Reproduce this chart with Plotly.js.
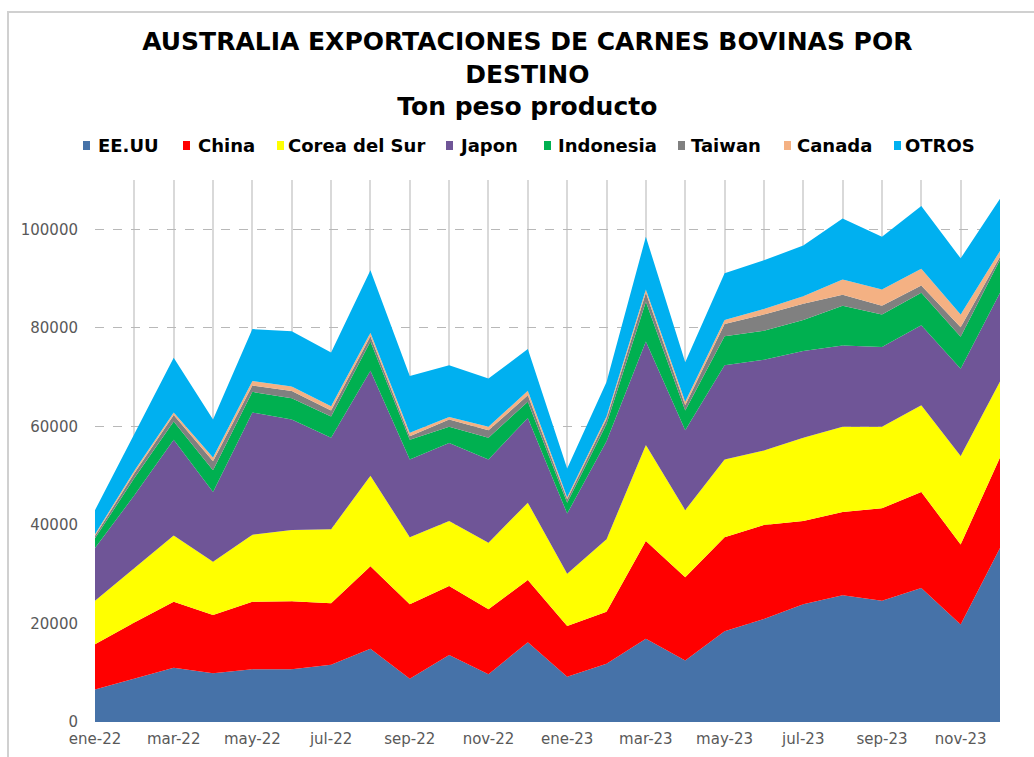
<!DOCTYPE html>
<html>
<head>
<meta charset="utf-8">
<script src="https://cdn.plot.ly/plotly-3.0.1.min.js"></script>
<style>
  html, body { margin: 0; padding: 0; background: #ffffff; }
  #chart { width: 1034px; height: 757px; }
</style>
</head>
<body>
<div id="chart"></div>
<script>
// ---- data (ton peso producto) ----
const months = ['ene-22','feb-22','mar-22','abr-22','may-22','jun-22','jul-22','ago-22','sep-22','oct-22','nov-22','dic-22',
                'ene-23','feb-23','mar-23','abr-23','may-23','jun-23','jul-23','ago-23','sep-23','oct-23','nov-23','dic-23'];
const seriesNames = ['EE.UU','China','Corea del Sur','Japon','Indonesia','Taiwan','Canada','OTROS'];
const eeuu      = [6600,8800,11000,9900,10700,10700,11600,14850,8800,13600,9700,16200,9200,11800,16900,12500,18400,20900,23900,25700,24600,27200,19800,35300];
const china     = [9200,11400,13400,11800,13700,13800,12500,16750,15100,14000,13200,12600,10300,10600,19850,16900,19100,19100,16900,16900,18800,19500,16200,18400];
const corea     = [8800,11000,13450,10800,13600,14450,15000,18400,13600,13200,13500,15700,10600,14700,19450,13600,15800,15100,16900,17300,16500,17600,18000,15400];
const japon     = [10700,14800,19450,14200,24800,22450,18600,21300,15800,15800,16900,17200,12200,19900,21000,16200,19100,18400,17600,16500,16200,16200,17700,18000];
const indonesia = [2000,3500,3700,4400,4200,4300,4300,5900,4000,3300,4400,3300,2200,3500,8100,4000,5900,5900,6300,8100,6600,6600,6500,6700];
const taiwan    = [500,1000,1300,1800,1300,1500,1200,1100,700,1500,1500,1300,700,1000,1800,1100,2500,3300,3300,2200,1800,1500,1900,600];
const canada    = [300,500,500,800,900,900,900,700,700,500,700,950,400,500,700,700,800,1100,1500,3100,3300,3400,2600,1200];
const otros     = [4900,7500,11100,7700,10550,11200,10900,12700,11500,10500,9800,8450,5850,7000,10700,8000,9500,9900,10300,12400,10700,12700,11400,10600];
const tickLabels = ['ene-22','mar-22','may-22','jul-22','sep-22','nov-22','ene-23','mar-23','may-23','jul-23','sep-23','nov-23'];

// ---- styles ----
const colors = ['#4672A8','#FF0000','#FFFF00','#6F5597','#00B050','#808080','#F4B183','#00B0F0'];
const values = [eeuu, china, corea, japon, indonesia, taiwan, canada, otros];

const traces = values.map((v, i) => ({
  type: 'scatter',
  mode: 'lines',
  name: seriesNames[i],
  x: months,
  y: v,
  stackgroup: 'one',
  fillcolor: colors[i],
  line: { width: 0, color: colors[i] },
  showlegend: false,
  hoverinfo: 'x+y+name'
}));

// plot area in pixels (for positioning the hand-laid legend)
const L = 95, R = 1000, T = 180, B = 722, W = 1034, H = 757;
const xp = px => (px - L) / (R - L);
const yp = py => (B - py) / (B - T);

const legendMarkerX = [83, 183, 277, 446, 544, 678, 784, 894];
const legendTextX   = [96, 196, 286, 457, 556, 689, 795, 903];
const legendY = 145;

const shapes = [];
const annotations = [];
seriesNames.forEach((n, i) => {
  shapes.push({
    type: 'rect', xref: 'paper', yref: 'paper',
    x0: xp(legendMarkerX[i]), x1: xp(legendMarkerX[i] + 7),
    y0: yp(legendY + 5), y1: yp(legendY - 4),
    fillcolor: colors[i], line: { width: 0 }
  });
  annotations.push({
    xref: 'paper', yref: 'paper',
    x: xp(legendTextX[i]), y: yp(legendY),
    xanchor: 'left', yanchor: 'middle',
    text: n, showarrow: false,
    font: { family: 'DejaVu Sans', size: 18, color: '#000000', weight: 'bold' }
  });
});
// outer chart frame
shapes.push({
  type: 'rect', xref: 'paper', yref: 'paper', layer: 'below',
  x0: xp(8), x1: xp(1045), y0: yp(775), y1: yp(12),
  fillcolor: 'rgba(0,0,0,0)', line: { color: '#d0d0d0', width: 2 }
});

const layout = {
  width: W, height: H,
  margin: { l: L, r: W - R, t: T, b: H - B, pad: 0 },
  paper_bgcolor: '#ffffff',
  plot_bgcolor: '#ffffff',
  showlegend: false,
  title: {
    text: 'AUSTRALIA EXPORTACIONES DE CARNES BOVINAS POR<br>DESTINO<br>Ton peso producto',
    font: { family: 'DejaVu Sans', size: 25, color: '#000000', weight: 'bold' },
    x: 0.51, xref: 'container', xanchor: 'center',
    y: 1 - 50 / H, yref: 'container', yanchor: 'top'
  },
  xaxis: {
    type: 'category',
    range: [0, months.length - 1],
    tickmode: 'array',
    tickvals: months,
    ticktext: months.map(m => tickLabels.includes(m) ? m : ''),
    tickangle: 0,
    showgrid: true,
    gridcolor: '#d9d9d9',
    gridwidth: 2,
    showline: false,
    zeroline: false,
    ticks: '',
    ticklabelstandoff: 6,
    tickfont: { family: 'DejaVu Sans', size: 15, color: '#595959' }
  },
  yaxis: {
    range: [0, 110000],
    tickmode: 'linear',
    tick0: 0,
    dtick: 20000,
    showgrid: true,
    gridcolor: '#b8b8b8',
    griddash: 'dash',
    gridwidth: 1,
    zeroline: false,
    showline: false,
    ticks: '',
    ticklabelstandoff: 16,
    tickformat: 'd',
    tickfont: { family: 'DejaVu Sans', size: 15, color: '#595959' }
  },
  shapes: shapes,
  annotations: annotations
};

Plotly.newPlot('chart', traces, layout, { displayModeBar: false, staticPlot: true });
</script>
</body>
</html>
